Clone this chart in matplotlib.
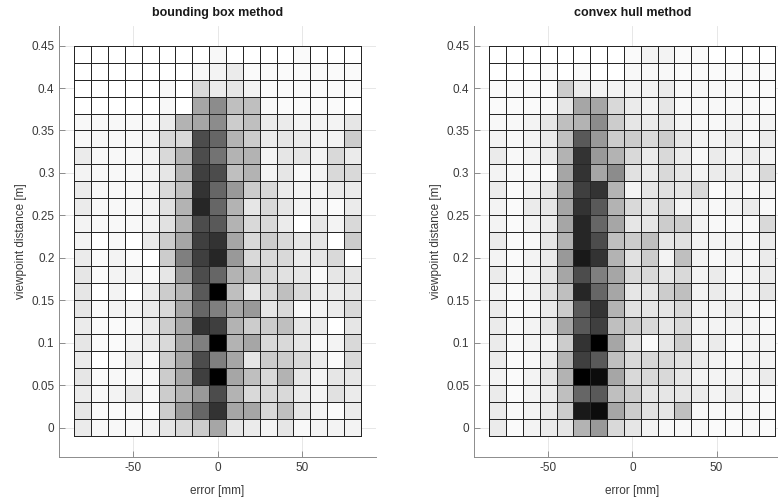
import numpy as np
import matplotlib
matplotlib.use("Agg")
import matplotlib.pyplot as plt
from matplotlib.ticker import FuncFormatter

plt.rcParams['font.family'] = ['Liberation Sans', 'DejaVu Sans']
plt.rcParams['axes.unicode_minus'] = False

# bin centres
error_mm = [-80, -70, -60, -50, -40, -30, -20, -10, 0, 10, 20, 30, 40, 50, 60, 70, 80]
distance_m = [0.44, 0.42, 0.40, 0.38, 0.36, 0.34, 0.32, 0.30, 0.28, 0.26, 0.24, 0.22,
              0.20, 0.18, 0.16, 0.14, 0.12, 0.10, 0.08, 0.06, 0.04, 0.02, 0.00]

# counts (rows: top 0.44 -> bottom 0.00)
bbox_counts = [
    [0, 0, 0, 0, 0, 0, 0, 0, 0.3, 0, 0, 0, 0, 0.2, 0, 0, 0],
    [0, 0, 0, 0, 0, 0, 0, 0.3, 0.5, 0.8, 0.2, 0.2, 0.2, 0.2, 0.2, 0.2, 0.2],
    [0, 0, 0, 0, 0, 0.3, 0, 1.5, 0.8, 1, 0.5, 0.2, 0.2, 0.2, 0.2, 0.2, 0.2],
    [0, 0, 0, 0, 0, 0.3, 0, 3.5, 4.5, 2.5, 2.5, 0.3, 0.2, 0.2, 0.2, 0.2, 0],
    [0.3, 0.3, 0.3, 0.3, 0.3, 0.8, 3, 3.5, 4.5, 2, 2.5, 0.8, 0.8, 0.5, 0.5, 0.5, 1],
    [0.3, 0.3, 0.3, 0.3, 0.5, 1.5, 1.5, 7, 6, 3, 2, 0.8, 1, 0.8, 0.5, 0.5, 2],
    [0.8, 0.3, 0.3, 0.3, 0.5, 1.5, 3, 7, 5.5, 3, 3, 0.5, 1, 1, 0.5, 1.5, 0.8],
    [0.5, 0.3, 0.3, 0.3, 0.5, 1, 3, 7.5, 7, 2.5, 3, 0.5, 1, 0.3, 0.5, 1.5, 1.5],
    [0.8, 0.3, 0.3, 0.3, 0.5, 1.5, 2.5, 8, 6, 4, 2, 1.5, 0.8, 0.5, 0.5, 0.8, 0.8],
    [0.8, 0.3, 0.3, 0.3, 0.5, 1.2, 3, 8.5, 6, 3, 1, 1.5, 1, 0.5, 0.5, 0.2, 0.8],
    [0.5, 0.3, 0.3, 0.3, 0.5, 1.2, 3, 7, 6.5, 3, 1.5, 1.5, 0.8, 0, 1, 0.5, 1.5],
    [0.5, 0, 0.3, 0, 0.8, 2, 3.5, 7.5, 8, 3.5, 1.5, 2, 1.5, 1, 1, 0, 2],
    [0.8, 0.2, 0.5, 0.2, 0, 2, 5, 7.5, 8.5, 4, 1.5, 1.5, 1.5, 0.8, 1, 1.5, 0],
    [1, 0.2, 0.5, 0.5, 0.2, 1, 4, 7, 6, 3, 2.5, 1.5, 1.2, 1, 0.3, 1, 1],
    [1, 0, 0.5, 0, 0.8, 2, 3, 6.5, 10, 2.5, 1, 1.5, 2.5, 1.5, 0.8, 0.8, 1],
    [1, 0.2, 0.5, 0.5, 0.8, 1.5, 3.5, 6, 5, 3.5, 4, 1, 1.5, 0.3, 0.5, 0.8, 1.5],
    [0.8, 0.2, 0.2, 0.3, 0.8, 2, 3.5, 8, 7.5, 3, 2, 2, 2.5, 1, 0.8, 0, 1],
    [1, 0.2, 0.2, 0.5, 0.8, 1.5, 3.5, 5, 10, 3, 3.5, 1.5, 1.5, 1, 0.3, 0.5, 1.5],
    [0.8, 0, 0.2, 0.8, 0.3, 2, 3.5, 7, 5, 3.5, 1, 2, 2, 1.5, 0.8, 0.2, 1.5],
    [1, 0.2, 0.3, 0.3, 0.3, 2, 3.5, 7.5, 10, 3.5, 2.5, 1.5, 3, 1, 0.5, 1, 1],
    [0.8, 0.3, 0.5, 1, 0.3, 2, 3, 4, 7, 3, 1.5, 1.5, 1.5, 0.8, 0.5, 1.2, 0.8],
    [1, 0.2, 0.2, 0.3, 0.2, 2, 4, 6, 8, 3.5, 3.5, 1.5, 2.5, 1, 0.5, 0.2, 0.8],
    [0.8, 0.3, 0.3, 0.3, 0.5, 1, 1.5, 2, 3.5, 1, 0.8, 0.5, 1, 0.3, 0.5, 0.5, 0.5],
]

hull_counts = [
    [0, 0, 0, 0, 0, 0, 0, 0, 0.2, 0.5, 0.5, 0.2, 0.2, 0, 0, 0, 0],
    [0, 0, 0, 0.2, 0, 0.2, 0, 0, 0.3, 0.3, 0.3, 0.2, 0.2, 0.2, 0.2, 0.2, 0.2],
    [0.2, 0.2, 0.2, 0.2, 2, 0.8, 0.5, 0.5, 0.5, 0.5, 0.8, 0.3, 0.3, 0.3, 0.3, 0.2, 0.2],
    [0.2, 0.2, 0.2, 0.3, 1, 3.5, 3.5, 1.5, 0.8, 0.5, 1, 0.3, 0.3, 0.3, 0.3, 0.3, 0.2],
    [0.3, 0.3, 0.5, 1, 2.5, 3, 4.5, 2, 1, 0.8, 1, 0.5, 0.3, 0.3, 0.5, 0.3, 0.5],
    [0.5, 0.3, 0.5, 0.8, 2.5, 6.5, 4, 2, 2, 1.5, 2, 1, 0.5, 0.5, 0.8, 0.3, 0.8],
    [0.8, 0.3, 0.5, 0.8, 3, 8, 4, 3, 1.5, 0.8, 1.5, 0.8, 0.3, 0.8, 0.5, 0.8, 0.5],
    [0.5, 0.3, 0.3, 0.2, 3.5, 8, 3.5, 4.5, 1.2, 0.8, 1.5, 1, 0.5, 0.8, 0.8, 0.5, 1.5],
    [0.8, 0.2, 0.5, 1, 3.5, 7.5, 8, 3, 0.5, 1, 1.2, 1, 1.5, 0.2, 0.5, 0.3, 0.5],
    [0.5, 0.2, 0.8, 1, 3.5, 8, 6.5, 3, 1.5, 1, 1.5, 0.5, 0.5, 0.3, 0.5, 0.8, 0.3],
    [0.5, 0.2, 0.5, 0.8, 3.5, 8.5, 6, 3.5, 1, 1, 2, 2, 0.5, 0.3, 0.3, 0.3, 1.5],
    [0.8, 0.2, 0.3, 1, 3, 8.5, 7, 2.5, 2, 2.5, 1, 1.2, 0.5, 0.5, 0.5, 0.3, 0.8],
    [0.5, 0.2, 0.5, 0.8, 4, 9, 8, 3, 1.2, 2, 0.5, 2.5, 0.5, 0.3, 0.5, 0.3, 0.8],
    [0.8, 0.3, 0.5, 1, 3.5, 7, 5, 3.5, 1.5, 1.5, 1, 1.5, 0.5, 0.8, 0.3, 0.5, 0.8],
    [0.5, 0.2, 0.5, 1.2, 2.5, 8.5, 6, 3.5, 1, 1, 2, 2.5, 0.5, 0.8, 0.5, 0.5, 1],
    [0.8, 0.2, 0.3, 0.8, 2, 6.5, 8, 3, 1.2, 1, 1, 1.5, 0.5, 0.5, 0.8, 0.3, 0.3],
    [0.8, 0.3, 0.5, 1, 3.5, 6.5, 7.5, 2.5, 2, 1.5, 1, 1.5, 0.5, 0.5, 0.5, 0.5, 0.3],
    [0.8, 0.3, 0.5, 0.5, 2, 8, 10, 3.5, 1.2, 0.2, 1, 2, 0.5, 0.8, 0.3, 0.5, 0.5],
    [0.8, 0.2, 0.3, 0.8, 3, 7.5, 6.5, 2.5, 1.5, 1.5, 1.5, 1.2, 0.8, 0.5, 0.3, 0.5, 0.5],
    [0.5, 0.2, 0.5, 1, 3, 10, 9.5, 3.5, 1.5, 1.5, 1.5, 1, 0.5, 0.5, 0.5, 0.5, 0.8],
    [0.8, 0.2, 0.5, 0.8, 2.5, 6, 6.5, 2.5, 2, 1, 1, 1, 0.8, 0.5, 0.8, 0.3, 0.3],
    [0.8, 0.3, 0.5, 0.8, 2, 9, 9.5, 3.5, 2, 1.2, 1, 2.5, 0.3, 0.3, 0.3, 0.3, 0.3],
    [0.8, 0.2, 0.5, 0.8, 1, 3, 4, 1.5, 1, 0.5, 0.3, 0.3, 0.3, 0.2, 0.2, 0.3, 0.2],
]

titles = ['bounding box method', 'convex hull method']
yticks = [0, 0.05, 0.1, 0.15, 0.2, 0.25, 0.3, 0.35, 0.4, 0.45]
xticks = [-50, 0, 50]

# bin edges from the centres
xc = np.array(error_mm, dtype=float)
yc = np.array(distance_m[::-1])
xedges = np.append(xc - 5, xc[-1] + 5)
yedges = np.append(yc - 0.01, yc[-1] + 0.01)

fig = plt.figure(figsize=(7.78, 5.01), dpi=100)
positions = [[0.0762, 0.0884, 0.4069, 0.8597], [0.6093, 0.0884, 0.4069, 0.8597]]

for pos, title, counts in zip(positions, titles, [bbox_counts, hull_counts]):
    ax = fig.add_axes(pos)
    z = np.array(counts)[::-1]
    ax.pcolormesh(xedges, yedges, z, cmap='gray_r', vmin=0, vmax=10,
                  edgecolors='#262626', linewidth=0.7, zorder=2)
    ax.set_xlim(-94, 94)
    ax.set_ylim(-0.034, 0.473)
    ax.set_xticks(xticks)
    ax.set_yticks(yticks)
    ax.yaxis.set_major_formatter(FuncFormatter(lambda v, p: '%g' % round(v, 2)))
    ax.grid(True, color='#e3e3e3', linewidth=0.6, zorder=0)
    ax.set_axisbelow(True)
    for s in ['top', 'right']:
        ax.spines[s].set_visible(False)
    for s in ['left', 'bottom']:
        ax.spines[s].set_color('#8c8c8c')
        ax.spines[s].set_linewidth(0.7)
    ax.tick_params(direction='in', length=4, width=0.7, color='#8c8c8c',
                   labelcolor='#3a3a3a', labelsize=8.5)
    ax.set_xlabel('error [mm]', fontsize=8.5, color='#3a3a3a', labelpad=8)
    ax.set_ylabel('viewpoint distance [m]', fontsize=8.5, color='#3a3a3a', labelpad=3)
    ax.set_title(title, fontsize=9, fontweight='bold', color='#1a1a1a', pad=7)

fig.savefig('out.png', dpi=100)
